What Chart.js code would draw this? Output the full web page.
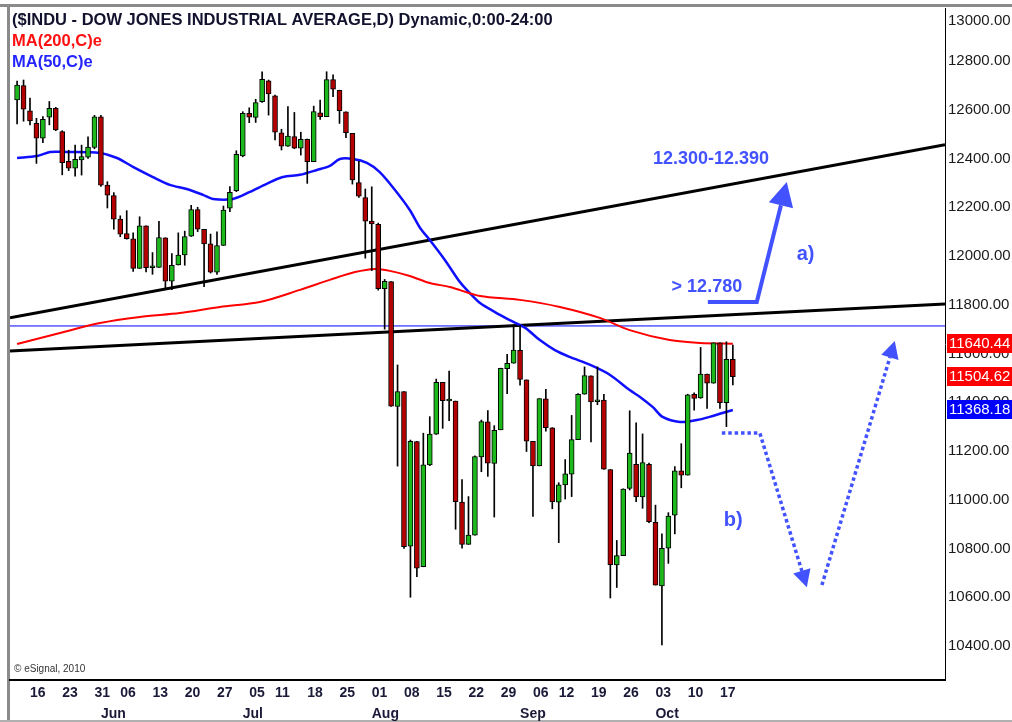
<!DOCTYPE html>
<html><head><meta charset="utf-8">
<script src="https://cdn.jsdelivr.net/npm/chart.js@4.4.0/dist/chart.umd.min.js"></script>
<style>html,body{margin:0;padding:0;background:#fff;}canvas{display:block}</style>
</head><body>
<canvas id="c" width="1012" height="722"></canvas>
<script>
// ---- data (DJIA daily) ----
const dates = [
"2011-05-12","2011-05-13","2011-05-16","2011-05-17","2011-05-18","2011-05-19","2011-05-20","2011-05-23","2011-05-24","2011-05-25","2011-05-26","2011-05-27","2011-05-31",
"2011-06-01","2011-06-02","2011-06-03","2011-06-06","2011-06-07","2011-06-08","2011-06-09","2011-06-10","2011-06-13","2011-06-14","2011-06-15","2011-06-16","2011-06-17","2011-06-20","2011-06-21","2011-06-22","2011-06-23","2011-06-24","2011-06-27","2011-06-28","2011-06-29","2011-06-30",
"2011-07-01","2011-07-05","2011-07-06","2011-07-07","2011-07-08","2011-07-11","2011-07-12","2011-07-13","2011-07-14","2011-07-15","2011-07-18","2011-07-19","2011-07-20","2011-07-21","2011-07-22","2011-07-25","2011-07-26","2011-07-27","2011-07-28","2011-07-29",
"2011-08-01","2011-08-02","2011-08-03","2011-08-04","2011-08-05","2011-08-08","2011-08-09","2011-08-10","2011-08-11","2011-08-12","2011-08-15","2011-08-16","2011-08-17","2011-08-18","2011-08-19","2011-08-22","2011-08-23","2011-08-24","2011-08-25","2011-08-26","2011-08-29","2011-08-30","2011-08-31",
"2011-09-01","2011-09-02","2011-09-06","2011-09-07","2011-09-08","2011-09-09","2011-09-12","2011-09-13","2011-09-14","2011-09-15","2011-09-16","2011-09-19","2011-09-20","2011-09-21","2011-09-22","2011-09-23","2011-09-26","2011-09-27","2011-09-28","2011-09-29","2011-09-30",
"2011-10-03","2011-10-04","2011-10-05","2011-10-06","2011-10-07","2011-10-10","2011-10-11","2011-10-12","2011-10-13","2011-10-14","2011-10-17","2011-10-18","2011-10-19"];

const opens = [
12640,12699,12596,12544,12483,12570,12606,12510,12388,12360,12394,12405,12446,
12571,12291,12248,12151,12092,12070,11949,12124,11952,11953,12075,11897,11963,12004,12081,12190,12109,12050,11934,12043,12196,12268,
12411,12585,12569,12633,12719,12657,12505,12451,12490,12442,12479,12387,12587,12572,12724,12680,12592,12503,12301,12240,
12143,12130,11866,11895,11383,11444,10810,11239,10725,11143,11269,11482,11405,11405,10990,10817,10855,11176,11320,11149,11287,11538,11560,
11613,11492,11240,11139,11414,11295,10990,11061,11105,11247,11433,11508,11402,11409,11124,10733,10771,11047,11145,11012,11145,
10907,10646,10801,10937,11119,11101,11433,11418,11516,11478,11644,11398,11576];

const highs = [
12718,12722,12648,12565,12572,12634,12610,12514,12434,12455,12455,12489,12577,
12577,12305,12260,12165,12186,12095,12161,12124,12014,12142,12075,12010,12095,12102,12208,12200,12109,12090,12099,12205,12285,12432,
12592,12608,12643,12756,12722,12660,12520,12613,12589,12508,12480,12615,12640,12756,12743,12680,12592,12503,12388,12275,
12284,12135,11904,11895,11553,11444,11245,11240,11273,11341,11495,11482,11528,11405,11083,11013,11180,11327,11366,11304,11540,11597,11717,
11716,11492,11240,11415,11453,11296,11070,11165,11346,11436,11545,11508,11545,11433,11124,10833,11045,11365,11316,11270,11150,
10978,10860,10947,11136,11230,11433,11439,11625,11516,11644,11644,11648,11635];

const lows = [
12542,12553,12538,12380,12465,12538,12514,12333,12350,12328,12332,12400,12440,
12285,12197,12110,12079,12069,11937,11949,11935,11925,11953,11863,11862,11963,11962,12080,12100,11874,11930,11924,12043,12182,12264,
12407,12547,12548,12630,12578,12476,12435,12450,12440,12414,12298,12387,12560,12572,12654,12544,12485,12295,12240,11991,
11940,11860,11700,11383,11138,10800,10600,10684,10725,11140,11268,11293,11324,10879,10801,10817,10855,11115,11096,10929,11287,11435,11560,
11470,11198,10932,11139,11281,10963,10824,11003,11013,11247,11433,11237,11390,11124,10597,10640,10771,11040,10992,10965,10906,
10650,10404,10739,10860,11049,11101,11368,11416,11375,11478,11375,11300,11471];

const closes = [
12701,12602,12554,12483,12561,12606,12517,12383,12360,12397,12408,12447,12571,
12291,12250,12151,12090,12071,11949,12124,11952,11953,12076,11897,11962,12004,12080,12190,12110,12050,11934,12043,12188,12261,12417,
12585,12570,12629,12725,12665,12508,12451,12492,12442,12479,12387,12593,12572,12724,12684,12596,12506,12312,12246,12143,
12132,11866,11896,11384,11444,10808,11240,10719,11143,11269,11482,11406,11410,10992,10817,10855,11177,11321,11150,11285,11539,11560,11614,
11494,11240,11139,11415,11296,10992,11061,11106,11247,11433,11509,11401,11409,11125,10734,10771,11044,11191,11012,11152,10910,
10650,10801,10933,11119,11101,11430,11416,11516,11478,11644,11398,11576,11504.62];

// moving averages: [trading-day index, value]
const ma200Points = [[0,11639],[6.65,11684],[12.85,11725],[19.05,11750],[25.26,11766],[31.46,11791],[37.66,11811],[43.86,11861],[48.5,11902],[52.4,11934],[55.5,11947],[57.8,11939],[60.9,11918],[64,11889],[67.1,11873],[71.8,11836],[77.97,11820],[84.17,11791],[90.37,11746],[95,11696],[101.2,11655],[105.9,11643],[111,11640.44]];
const ma50Points = [[0,12402],[3.1,12410],[5.1,12427],[7.7,12427],[12.85,12423],[15.49,12402],[17.97,12366],[21.07,12324],[23.7,12292],[26.3,12275],[28.82,12251],[30.37,12234],[33.47,12234],[36.1,12263],[38.7,12296],[41.2,12324],[43.86,12333],[46.5,12353],[48.5,12370],[50.06,12398],[52.1,12398],[54.25,12382],[56.2,12345],[58.6,12271],[60.9,12189],[62.5,12115],[64,12066],[66.34,11984],[68.67,11893],[70.2,11848],[71.8,11807],[74.1,11770],[76.4,11737],[78.8,11705],[81.07,11655],[83.4,11614],[85.7,11586],[88.8,11554],[91.9,11513],[95,11450],[96.6,11422],[98.6,11380],[100.1,11340],[102.8,11319],[105.4,11327],[107.4,11340],[109.4,11356],[111,11368.18]];

// drawn trend lines and level: [index, value]
const trendUpper = [[-1.1,11747],[143.9,12457]];
const trendLower = [[-1.1,11610],[143.9,11803]];
const levelLine = [[-1.1,11713],[143.9,11713]];

// annotations (index, value)
const arrowA = [[107.12,11811],[114.71,11811],[119.36,12304]];
const arrowB1 = [[109.29,11274],[115.18,11274],[122.47,10641]];
const arrowB2 = [[124.81,10650],[136.11,11651]];
const annotTexts = [
  {t:"12.300-12.390", x:98.6, y:12398, size:18},
  {t:"> 12.780", x:101.5, y:11873, size:18},
  {t:"a)", x:120.9, y:12008, size:20},
  {t:"b)", x:109.6, y:10913, size:20}
];

const weekTickDates = ["2011-05-16","2011-05-23","2011-05-31","2011-06-06","2011-06-13","2011-06-20","2011-06-27","2011-07-05","2011-07-11","2011-07-18","2011-07-25","2011-08-01","2011-08-08","2011-08-15","2011-08-22","2011-08-29","2011-09-06","2011-09-12","2011-09-19","2011-09-26","2011-10-03","2011-10-10","2011-10-17"];
const weekTickLabels = ["16","23","31","06","13","20","27","05","11","18","25","01","08","15","22","29","06","12","19","26","03","10","17"];
const monthTickDates = ["2011-06-01","2011-07-01","2011-08-01","2011-09-01","2011-10-03"];
const monthTickLabels = ["Jun","Jul","Aug","Sep","Oct"];
const yTickValues = [10400,10600,10800,11000,11200,11400,11600,11800,12000,12200,12400,12600,12800];
const yTopLabel = 13000;
const lastBoxes = [
  {v:11640.44, bg:"#ff0000"},
  {v:11504.62, bg:"#ff0000"},
  {v:11368.18, bg:"#0000ff"}
];

// ---- chart ----
const GREEN = "#1cb81c", RED = "#b40000", ANN = "#4252ff";
const X_MIN = -1.1, X_MAX = 143.9;
const FONT = "'Liberation Sans', Arial, sans-serif";
const weekIdx = weekTickDates.map(d => dates.indexOf(d));
const monthIdx = monthTickDates.map(d => dates.indexOf(d));

const bodyData = dates.map((d,i) => ({x:i, y:[opens[i], closes[i]]}));
const wickData = dates.map((d,i) => ({x:i, y:[lows[i], highs[i]]}));
const pts = a => a.map(p => ({x:p[0], y:p[1]}));

function arrowPath(ctx, chart, p, dotted, headLen, headW, color, lw){
  const xs = chart.scales.x, ys = chart.scales.y;
  const px = p.map(q => [xs.getPixelForValue(q[0]), ys.getPixelForValue(q[1])]);
  const tip = px[px.length-1], prev = px[px.length-2];
  const dx = tip[0]-prev[0], dy = tip[1]-prev[1], L = Math.hypot(dx,dy);
  const ux = dx/L, uy = dy/L;
  const bx = tip[0]-ux*headLen, by = tip[1]-uy*headLen;
  ctx.save();
  ctx.strokeStyle = color; ctx.fillStyle = color; ctx.lineWidth = lw;
  ctx.lineJoin = "miter";
  if (dotted) ctx.setLineDash([3.5, 2.9]);
  ctx.beginPath();
  ctx.moveTo(px[0][0], px[0][1]);
  for (let i=1;i<px.length-1;i++) ctx.lineTo(px[i][0], px[i][1]);
  ctx.lineTo(bx, by);
  ctx.stroke();
  ctx.setLineDash([]);
  ctx.beginPath();
  ctx.moveTo(tip[0], tip[1]);
  ctx.lineTo(bx - uy*headW, by + ux*headW);
  ctx.lineTo(bx + uy*headW, by - ux*headW);
  ctx.closePath(); ctx.fill();
  ctx.restore();
}

const deco = {
  id: "deco",
  beforeDraw(chart){
    const c = chart.ctx;
    c.save();
    c.fillStyle = "#fff"; c.fillRect(0,0,chart.width,chart.height);
    c.fillStyle = "#8a8a8a";
    c.fillRect(0,4,chart.width,3);
    c.fillRect(7,4,3,chart.height);
    c.fillStyle = "#b0b0b0";
    c.fillRect(0,720,chart.width,2);
    c.restore();
  },
  afterDatasetsDraw(chart){
    const c = chart.ctx, xs = chart.scales.x, ys = chart.scales.y;
    arrowPath(c, chart, arrowA, false, 24, 12.5, ANN, 4);
    arrowPath(c, chart, arrowB1, true, 17, 9, ANN, 3.5);
    arrowPath(c, chart, arrowB2, true, 17, 9, ANN, 3.5);
    c.save();
    c.fillStyle = ANN; c.textBaseline = "middle"; c.textAlign = "left";
    annotTexts.forEach(a => {
      c.font = "bold " + a.size + "px " + FONT;
      c.fillText(a.t, xs.getPixelForValue(a.x), ys.getPixelForValue(a.y));
    });
    c.restore();
  },
  afterDraw(chart){
    const c = chart.ctx, ys = chart.scales.y, area = chart.chartArea;
    c.save();
    c.textBaseline = "middle"; c.textAlign = "left";
    c.fillStyle = "#1a1a1a";
    c.font = "15px " + FONT;
    c.fillText(yTopLabel.toFixed(2), area.right + 3, 21);
    lastBoxes.forEach(b => {
      const y = ys.getPixelForValue(b.v);
      c.fillStyle = b.bg;
      c.fillRect(area.right + 2, Math.round(y) - 10, chart.width - area.right - 2, 19);
      c.fillStyle = "#fff";
      c.font = "15px " + FONT;
      c.fillText(b.v.toFixed(2), area.right + 4, Math.round(y));
    });
    c.font = "bold 16.5px " + FONT;
    c.fillStyle = "#12122e";
    c.fillText("($INDU - DOW JONES INDUSTRIAL AVERAGE,D) Dynamic,0:00-24:00", 12, 20);
    c.fillStyle = "#ff1010";
    c.fillText("MA(200,C)e", 12, 41);
    c.fillStyle = "#2424ff";
    c.fillText("MA(50,C)e", 12, 62);
    c.fillStyle = "#333";
    c.font = "10px " + FONT;
    c.fillText("\u00a9 eSignal, 2010", 14, 669);
    c.restore();
  }
};

new Chart(document.getElementById("c"), {
  type: "bar",
  data: {
    datasets: [
      {type:"bar", label:"body", data: bodyData, order:0, grouped:false,
       backgroundColor: ctx => (closes[ctx.dataIndex] >= opens[ctx.dataIndex] ? GREEN : RED),
       borderColor:"#000", borderWidth:1, borderSkipped:false, barThickness:5, minBarLength:2},
      {type:"bar", label:"wick", data: wickData, order:1, grouped:false,
       backgroundColor:"#000", borderWidth:0, barThickness:1},
      {type:"line", label:"MA200", data: pts(ma200Points), order:2, borderColor:"#ff0000", borderWidth:2, pointRadius:0, tension:0.3},
      {type:"line", label:"MA50", data: pts(ma50Points), order:3, borderColor:"#1010ff", borderWidth:2.5, pointRadius:0, tension:0.3},
      {type:"line", label:"upper", data: pts(trendUpper), order:4, borderColor:"#000", borderWidth:3, pointRadius:0},
      {type:"line", label:"lower", data: pts(trendLower), order:5, borderColor:"#000", borderWidth:3, pointRadius:0},
      {type:"line", label:"level", data: pts(levelLine), order:6, borderColor:"#0000ff", borderWidth:1, pointRadius:0}
    ]
  },
  options: {
    responsive:false, animation:false, devicePixelRatio:1,
    layout:{padding:{left:10, top:8, right:0, bottom:0}},
    plugins:{legend:{display:false}, tooltip:{enabled:false}},
    scales:{
      x:{type:"linear", min:X_MIN, max:X_MAX, offset:false, position:"bottom", weight:0,
         grid:{display:false, drawTicks:false}, border:{display:true, color:"#000", width:2},
         afterBuildTicks: s => { s.ticks = weekIdx.map(v => ({value:v})); },
         afterFit: s => { s.height = 20; s.paddingLeft = 0; s.paddingRight = 0; },
         ticks:{autoSkip:false, maxRotation:0, align:"start", padding:5, color:"#1a1a38",
                font:{family:FONT, size:14, weight:"bold"},
                callback: v => { const k = weekIdx.indexOf(v); return k >= 0 ? weekTickLabels[k] : ""; }}},
      x2:{type:"linear", min:X_MIN, max:X_MAX, offset:false, position:"bottom", weight:1,
         grid:{display:false, drawTicks:false}, border:{display:false},
         afterBuildTicks: s => { s.ticks = monthIdx.map(v => ({value:v})); },
         afterFit: s => { s.height = 22; s.paddingLeft = 0; s.paddingRight = 0; },
         ticks:{autoSkip:false, maxRotation:0, align:"start", padding:6, color:"#1a1a38",
                font:{family:FONT, size:14, weight:"bold"},
                callback: v => { const k = monthIdx.indexOf(v); return k >= 0 ? monthTickLabels[k] : ""; }}},
      y:{type:"linear", position:"right", min:10260.5, max:13017.5,
         grid:{display:false, drawTicks:false}, border:{display:true, color:"#000", width:1},
         afterBuildTicks: s => { s.ticks = yTickValues.map(v => ({value:v})); },
         afterFit: s => { s.width = 67; s.paddingTop = 0; s.paddingBottom = 0; },
         ticks:{padding:3, color:"#1a1a1a",
                font:{family:FONT, size:15},
                callback: v => Number(v).toFixed(2)}}
    }
  },
  plugins:[deco]
});
</script>
</body></html>
